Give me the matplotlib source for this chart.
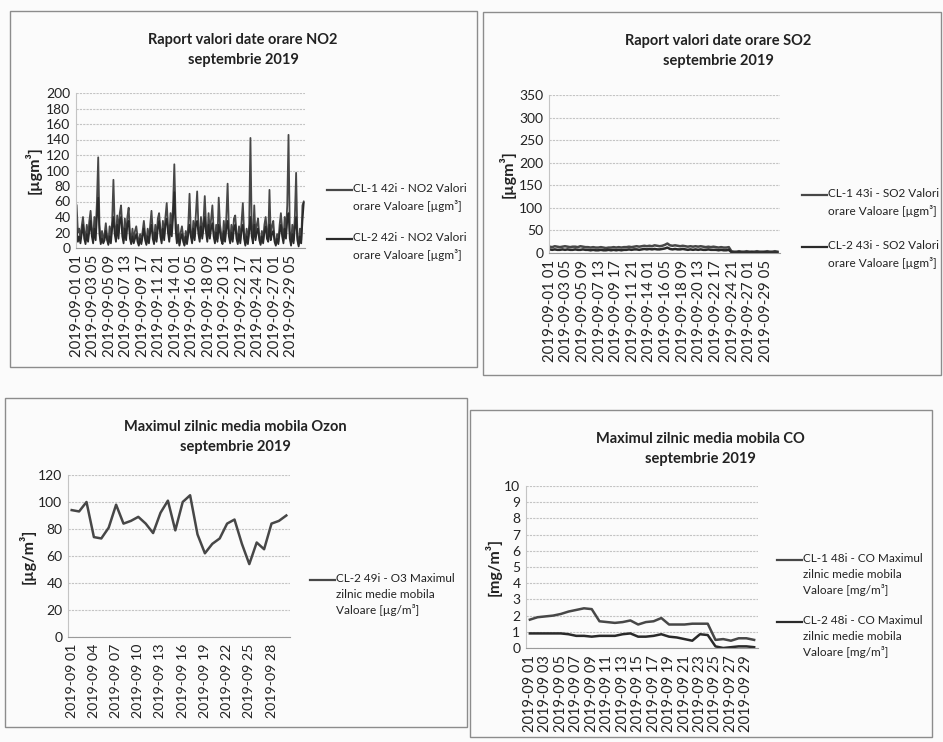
import numpy as np
import matplotlib
matplotlib.use('Agg')
import matplotlib.pyplot as plt
from matplotlib.patches import Rectangle
from matplotlib.lines import Line2D

# ---- date labels ----
hour_labels = ['2019-09-01 01', '2019-09-03 05', '2019-09-05 09', '2019-09-07 13',
               '2019-09-09 17', '2019-09-11 21', '2019-09-14 01', '2019-09-16 05',
               '2019-09-18 09', '2019-09-20 13', '2019-09-22 17', '2019-09-24 21',
               '2019-09-27 01', '2019-09-29 05']
day_labels = ['2019-09 %02d' % d for d in range(1, 31)]

# ---- NO2, values every 4 hours (01, 05, 09, 13, 17, 21 of each day) ----
no2_cl1 = [55, 20, 25, 12, 28, 40,  22, 10, 30, 15, 35, 48,  25, 12, 40, 20, 60, 117,
           30, 8, 22, 10, 18, 32,   15, 6, 28, 12, 35, 88,   30, 12, 42, 20, 45, 55,
           28, 10, 38, 15, 40, 52,  20, 8, 25, 10, 22, 28,   15, 5, 18, 8, 22, 35,
           18, 6, 25, 10, 30, 48,   22, 8, 30, 12, 38, 45,   25, 10, 35, 15, 40, 58,
           30, 12, 45, 25, 55, 108, 40, 10, 30, 5, 20, 28,   15, 4, 22, 8, 30, 70,
           22, 10, 35, 15, 45, 73,  28, 12, 40, 18, 35, 67,  30, 12, 45, 20, 38, 55,
           22, 10, 30, 12, 65, 30,  18, 8, 35, 12, 40, 83,   25, 10, 30, 12, 38, 42,
           20, 8, 28, 10, 35, 58,   20, 5, 25, 8, 30, 142,   25, 10, 55, 15, 30, 38,
           15, 6, 22, 10, 30, 40,   20, 12, 75, 15, 28, 35,  12, 5, 18, 8, 30, 45,
           25, 10, 40, 20, 55, 146, 22, 5, 30, 10, 40, 97,   15, 4, 25, 10, 55, 60]
no2_cl2 = [25, 8, 15, 6, 18, 30,    12, 5, 18, 8, 22, 35,    15, 6, 25, 10, 40, 65,
           18, 5, 12, 6, 10, 22,    10, 4, 15, 6, 25, 40,    18, 8, 30, 12, 35, 40,
           15, 6, 25, 10, 30, 35,   12, 5, 15, 6, 12, 18,    8, 3, 12, 5, 15, 25,
           10, 4, 15, 6, 20, 30,    12, 5, 20, 8, 25, 35,    15, 6, 25, 10, 30, 38,
           20, 8, 30, 15, 40, 72,   25, 6, 18, 3, 12, 18,    8, 3, 15, 5, 18, 30,
           15, 6, 25, 10, 30, 35,   18, 8, 28, 12, 25, 40,   20, 8, 30, 12, 25, 32,
           15, 6, 20, 8, 30, 20,    10, 5, 22, 8, 25, 35,    15, 6, 20, 8, 25, 30,
           12, 5, 18, 6, 22, 30,    12, 3, 15, 5, 20, 40,    15, 6, 30, 10, 20, 25,
           10, 4, 15, 6, 20, 28,    12, 8, 30, 10, 18, 22,   8, 3, 12, 5, 20, 30,
           15, 6, 25, 12, 35, 45,   12, 3, 18, 6, 25, 40,    10, 2, 15, 6, 35, 58]

# ---- SO2, values every 8 hours (01, 09, 17 of each day) ----
so2_cl1 = [14, 13, 15, 14, 13, 14, 15, 14, 13, 14, 14, 13, 15, 14, 13,
           13, 12, 13, 12, 12, 13, 12, 11, 12, 12, 13, 12, 13, 12, 13,
           13, 14, 13, 14, 15, 14, 15, 16, 15, 16, 15, 17, 16, 15, 16,
           18, 21, 17, 16, 17, 16, 15, 16, 15, 14, 15, 14, 15, 14, 15,
           14, 13, 14, 13, 14, 13, 12, 13, 12, 12, 13, 4,
           3, 3, 4, 3, 3, 4, 3, 3, 3, 4, 3, 3, 3, 4, 3, 3, 4, 3]
so2_cl2 = [8, 7, 8, 7, 7, 8, 7, 8, 7, 7, 8, 7, 7, 8, 7,
           7, 6, 7, 6, 6, 7, 6, 6, 7, 6, 7, 6, 7, 6, 7,
           7, 8, 7, 8, 8, 7, 8, 9, 8, 9, 8, 9, 8, 8, 9,
           10, 12, 9, 8, 9, 8, 8, 9, 8, 7, 8, 7, 8, 7, 8,
           7, 7, 8, 7, 7, 7, 6, 7, 6, 6, 7, 2,
           1, 1, 2, 1, 1, 1, 1, 2, 1, 1, 1, 1, 2, 1, 1, 1, 1, 1]

# ---- Ozone, daily maximum of 8h running mean ----
o3_cl2 = [94, 93, 100, 74, 73, 81, 98, 84, 86, 89, 84, 77, 92, 101, 79,
          100, 105, 76, 62, 69, 73, 84, 87, 69, 54, 70, 65, 84, 86, 90]

# ---- CO, daily maximum of 8h running mean ----
co_cl1 = [1.75, 1.9, 1.95, 2.0, 2.1, 2.25, 2.35, 2.45, 2.4, 1.65, 1.6, 1.55, 1.6, 1.7, 1.45,
          1.6, 1.65, 1.85, 1.45, 1.45, 1.45, 1.5, 1.5, 1.5, 0.5, 0.55, 0.45, 0.6, 0.6, 0.5]
co_cl2 = [0.9, 0.9, 0.9, 0.9, 0.9, 0.85, 0.75, 0.75, 0.7, 0.75, 0.75, 0.75, 0.85, 0.9, 0.7,
          0.7, 0.75, 0.85, 0.7, 0.65, 0.55, 0.45, 0.85, 0.8, 0.1, 0.0, 0.05, 0.1, 0.1, 0.05]

W, H = 943, 742
TXT = '#222222'
C1 = '#474747'
C2 = '#2a2a2a'
plt.rcParams['font.family'] = ['Lato', 'DejaVu Sans']

fig = plt.figure(figsize=(W / 100, H / 100), dpi=100)
fig.patch.set_facecolor('#fbfbfb')


def fx(x):
    return x / W


def fy(y):
    return 1 - y / H


def panel(box, area, title, title_xy, ylabel, ylabel_x, xsize):
    # outer frame of the chart object
    x0, y0, x1, y1 = box
    fig.patches.append(Rectangle((fx(x0), fy(y1)), fx(x1 - x0), (y1 - y0) / H,
                                 transform=fig.transFigure, fill=False,
                                 edgecolor='#8c8c8c', lw=1.0))
    l, t, r, b = area
    ax = fig.add_axes([fx(l), fy(b), fx(r - l), (b - t) / H])
    ax.set_facecolor('none')
    for s in ['top', 'right']:
        ax.spines[s].set_visible(False)
    ax.spines['left'].set_color('#c4c4c4')
    ax.spines['bottom'].set_color('#9a9a9a')
    ax.grid(axis='y', color='#c4c4c4', lw=0.8, ls=(0, (2, 1)))
    ax.set_axisbelow(True)
    ax.tick_params(axis='y', length=0, labelsize=10, colors=TXT, pad=4)
    ax.tick_params(axis='x', length=0, labelsize=xsize, colors=TXT, pad=5)
    fig.text(fx(title_xy[0]), fy(title_xy[1]), title, ha='center', va='center',
             fontsize=10.5, fontweight='bold', color=TXT, linespacing=1.6)
    fig.text(fx(ylabel_x), fy((t + b) / 2), ylabel, rotation=90, ha='center',
             va='center', fontsize=11.5, fontweight='bold', color=TXT)
    return ax


def legend(x, ys, labels, colors, gap):
    for y, lab, c in zip(ys, labels, colors):
        fig.lines.append(Line2D([fx(x), fx(x + 25)], [fy(y), fy(y)],
                                transform=fig.transFigure, color=c, lw=1.6))
        fig.text(fx(x + 26), fy(y - 7), lab, ha='left', va='top', fontsize=8.5,
                 color=TXT, linespacing=gap)


def hourly_axis(ax):
    ax.set_xlim(-2, 720)
    ax.set_xticks(np.arange(len(hour_labels)) * 52)
    ax.set_xticklabels(hour_labels, rotation=90)


# NO2
ax = panel((10, 11, 477, 367), (76, 93, 305, 248),
           'Raport valori date orare NO2\nseptembrie 2019', (243, 50), '[µgm³]', 33, 10.8)
h4 = np.arange(len(no2_cl1)) * 4
ax.plot(h4, no2_cl1, color=C1, lw=1.3)
ax.plot(h4, no2_cl2, color=C2, lw=1.3)
ax.set_ylim(0, 200)
ax.set_yticks(range(0, 201, 20))
hourly_axis(ax)
legend(327, [190, 239], ['CL-1 42i - NO2 Valori\norare Valoare [µgm³]',
                         'CL-2 42i - NO2 Valori\norare Valoare [µgm³]'], [C1, C2], 1.6)

# SO2
ax = panel((483, 12, 941, 375), (549, 95, 780, 253),
           'Raport valori date orare SO2\nseptembrie 2019', (718, 51), '[µgm³]', 507, 10.8)
h8 = np.arange(len(so2_cl1)) * 8
ax.plot(h8, so2_cl1, color=C1, lw=1.8)
ax.plot(h8, so2_cl2, color=C2, lw=1.8)
ax.set_ylim(0, 350)
ax.set_yticks(range(0, 351, 50))
hourly_axis(ax)
legend(802, [195, 247], ['CL-1 43i - SO2 Valori\norare Valoare [µgm³]',
                         'CL-2 43i - SO2 Valori\norare Valoare [µgm³]'], [C1, C2], 1.6)

# Ozone
ax = panel((5, 398, 467, 727), (68, 475, 290, 637),
           'Maximul zilnic media mobila Ozon\nseptembrie 2019', (235, 437), '[µg/m³]', 27, 10.2)
ax.plot(range(30), o3_cl2, color=C1, lw=1.8)
ax.set_ylim(0, 120)
ax.set_yticks(range(0, 121, 20))
ax.set_xlim(-0.5, 29.5)
ax.set_xticks(range(0, 30, 3))
ax.set_xticklabels(day_labels[::3], rotation=90)
legend(310, [580], ['CL-2 49i - O3 Maximul\nzilnic medie mobila\nValoare [µg/m³]'], [C1], 1.5)

# CO
ax = panel((470, 410, 932, 737), (526, 486, 758, 648),
           'Maximul zilnic media mobila CO\nseptembrie 2019', (700, 449), '[mg/m³]', 493, 10.5)
ax.plot(range(30), co_cl1, color=C1, lw=1.8)
ax.plot(range(30), co_cl2, color=C2, lw=1.8)
ax.set_ylim(0, 10)
ax.set_yticks(range(0, 11))
ax.set_xlim(-0.5, 29.5)
ax.set_xticks(range(0, 30, 2))
ax.set_xticklabels(day_labels[::2], rotation=90)
legend(777, [560, 622], ['CL-1 48i - CO Maximul\nzilnic medie mobila\nValoare [mg/m³]',
                         'CL-2 48i - CO Maximul\nzilnic medie mobila\nValoare [mg/m³]'], [C1, C2], 1.5)

fig.savefig('out.png', dpi=100, facecolor=fig.get_facecolor())
